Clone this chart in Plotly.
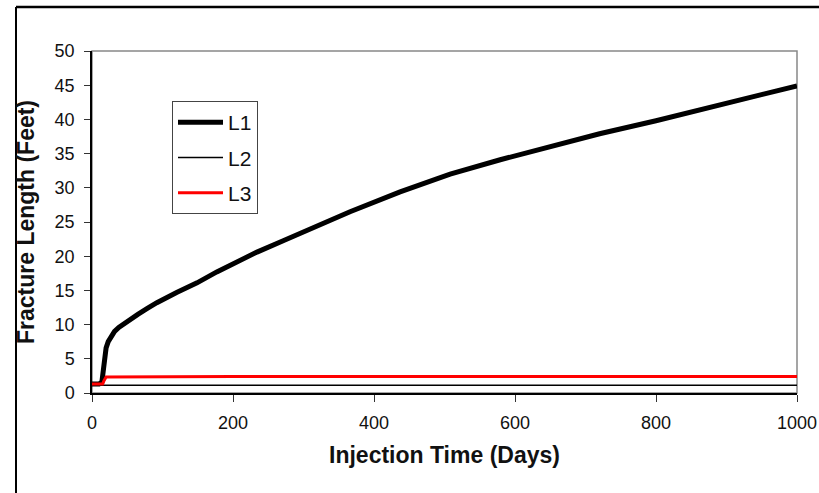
import plotly.graph_objects as go

# ---- data ----
l1_days = [0, 10, 14, 15, 16, 17, 18, 20, 23, 27, 32, 38, 46, 55, 65, 79, 92, 120, 149, 177,
           201, 234, 272, 305, 366, 437, 508, 579, 650, 720, 800, 862, 933, 1000]
l1_len = [1.3, 1.3, 1.6, 2.6, 3.8, 4.8, 5.6, 6.6, 7.5, 8.3, 9.0, 9.6, 10.2, 10.8, 11.5, 12.4, 13.2,
          14.7, 16.1, 17.7, 19.0, 20.6, 22.3, 23.8, 26.5, 29.4, 32.0, 34.1, 36.1, 37.9, 39.8,
          41.4, 43.1, 44.9]
l2_days = [0, 1000]
l2_len = [1.15, 1.15]
l3_days = [0, 15, 17, 19, 20, 200, 1000]
l3_len = [1.3, 1.3, 1.8, 2.3, 2.35, 2.4, 2.4]

x_ticks = [0, 200, 400, 600, 800, 1000]
y_ticks = [0, 5, 10, 15, 20, 25, 30, 35, 40, 45, 50]

FONT = "Arial, Liberation Sans, sans-serif"

fig = go.Figure()
fig.add_trace(go.Scatter(x=l1_days, y=l1_len, mode="lines", name="L1",
                         line=dict(color="black", width=5), legendgroup="a"))
fig.add_trace(go.Scatter(x=l2_days, y=l2_len, mode="lines", name="L2",
                         line=dict(color="black", width=1.5), legendgroup="b"))
fig.add_trace(go.Scatter(x=l3_days, y=l3_len, mode="lines", name="L3",
                         line=dict(color="#ff0000", width=3), legendgroup="c"))

W, H = 819, 493
L, R, T, B = 92, 22, 51, 100
pw, ph = W - L - R, H - T - B

def px(x):
    return (x - L) / pw

def py(y):
    return (H - B - y) / ph

fig.update_layout(
    width=W, height=H,
    margin=dict(l=L, r=R, t=T, b=B, autoexpand=False),
    paper_bgcolor="white", plot_bgcolor="white",
    font=dict(family=FONT, size=18, color="#111"),
    showlegend=True,
    legend=dict(x=px(172), y=py(101), xanchor="left", yanchor="top",
                bgcolor="white", bordercolor="#444", borderwidth=1,
                font=dict(size=21, color="#111"), tracegroupgap=5,
                itemwidth=45, traceorder="grouped"),
    xaxis=dict(range=[0, 1000], tickvals=x_ticks, showgrid=False, zeroline=False,
               showline=True, linecolor="black", linewidth=1.5,
               ticks="outside", ticklen=7, tickcolor="#333", tickwidth=1,
               tickfont=dict(size=18, color="#111"), ticklabelstandoff=6,
               automargin=False,
               title=dict(text="<b>Injection Time (Days)</b>", font=dict(size=23, color="#111"),
                          standoff=15)),
    yaxis=dict(range=[0, 50], tickvals=y_ticks, showgrid=False, zeroline=False,
               showline=True, linecolor="black", linewidth=1.5,
               ticks="outside", ticklen=6, tickcolor="#333", tickwidth=1,
               tickfont=dict(size=18, color="#111"), ticklabelstandoff=6,
               automargin=False,
               title=dict(text="<b>Fracture Length (Feet)</b>", font=dict(size=23, color="#111"),
                          standoff=14)),
    shapes=[
        # gray plot frame (top/right)
        dict(type="rect", xref="paper", yref="paper", x0=0, y0=0, x1=1, y1=1,
             line=dict(color="#888", width=1.5), layer="below"),
        # outer figure frame lines
        dict(type="line", xref="paper", yref="paper", x0=px(16), x1=px(819), y0=py(7), y1=py(7),
             line=dict(color="black", width=2.5)),
        dict(type="line", xref="paper", yref="paper", x0=px(16), x1=px(16), y0=py(7), y1=py(493),
             line=dict(color="black", width=2)),
    ],
)

fig.write_html("out.html")
